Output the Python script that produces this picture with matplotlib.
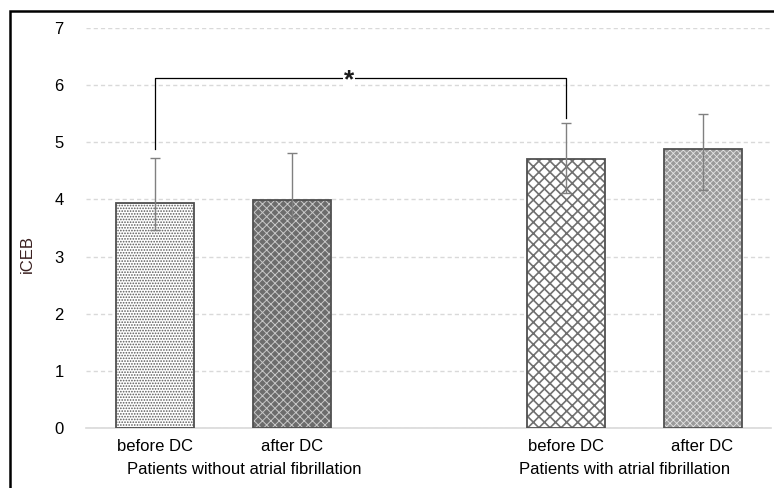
import matplotlib
matplotlib.use("Agg")
import matplotlib.pyplot as plt
from matplotlib.patches import Rectangle
import matplotlib.transforms as mtransforms

plt.rcParams['font.family'] = ['Liberation Sans', 'DejaVu Sans']

# ---- data ----
tick_labels = ["before DC", "after DC", "before DC", "after DC"]
positions = [0, 1, 3, 4]
values = [3.94, 3.99, 4.71, 4.89]
err_upper = [0.79, 0.82, 0.63, 0.61]
err_lower = [0.48, 0.29, 0.60, 0.72]
group_labels = ["Patients without atrial fibrillation", "Patients with atrial fibrillation"]
group_centers = [0.65, 3.43]
y_ticks = [0, 1, 2, 3, 4, 5, 6, 7]
y_label = "iCEB"
sig_pair = (0, 3)
sig_y = 6.12
sig_leg_bottoms = (4.88, 5.42)
sig_text = "*"
sig_text_x = 1.42

# ---- styles ----
face_colors = ['#ffffff', '#6c6c6c', '#ffffff', '#9a9a9a']
hatch_colors = ['#5a5a5a', '#c8c8c8', '#707070', '#e4e4e4']
hatches = ['......', 'xxxx', 'xxx', 'xxxxx']
hatch_lws = [0.8, 0.7, 1.2, 0.6]

fig = plt.figure(figsize=(7.74, 4.88), dpi=100)
ax = fig.add_axes([86/774, 60/488, 685/774, 400/488])

for x, v, fc, hc, h, hl in zip(positions, values, face_colors, hatch_colors, hatches, hatch_lws):
    b = ax.bar(x, v, width=0.57, color=fc, edgecolor=hc, hatch=h, linewidth=0, zorder=2)
    for p in b.patches:
        if hasattr(p, 'set_hatch_linewidth'):
            p.set_hatch_linewidth(hl)
    ax.bar(x, v, width=0.57, fill=False, edgecolor='#505050', linewidth=1.3, zorder=3)

ax.errorbar(positions, values, yerr=[err_lower, err_upper], fmt='none',
            ecolor='#808080', elinewidth=1.0, capsize=3.5, capthick=1.0, zorder=4)

# significance bracket
x0, x1 = sig_pair
ax.plot([x0, x0, x1, x1], [sig_leg_bottoms[0], sig_y, sig_y, sig_leg_bottoms[1]],
        color='black', linewidth=0.9, zorder=5, clip_on=False)
ax.text(sig_text_x, sig_y - 0.03, sig_text, ha='center', va='center', fontsize=19,
        fontweight='bold', color='#1a1a1a', zorder=6,
        bbox=dict(facecolor='white', edgecolor='none', pad=0.5))

ax.set_xlim(-0.504, 4.5)
ax.set_ylim(0, 7)
ax.set_yticks(y_ticks)
ax.set_yticklabels([str(t) for t in y_ticks], fontsize=12)
ax.set_xticks(positions)
ax.set_xticklabels(tick_labels, fontsize=12)
ax.tick_params(axis='both', length=0, colors='black')
ax.tick_params(axis='y', pad=16)
ax.tick_params(axis='x', pad=8)

for s in ['top', 'right', 'left']:
    ax.spines[s].set_visible(False)
ax.spines['bottom'].set_color('#d9d9d9')
ax.spines['bottom'].set_linewidth(1.2)
ax.spines['bottom'].set_zorder(1)

ax.yaxis.grid(True, color='#d9d9d9', linewidth=1.0, linestyle=(0, (3, 2.2)), zorder=0)
ax.set_axisbelow(True)

ax.set_ylabel(y_label, fontsize=12, color='#3a2020', labelpad=10)
ax.yaxis.set_label_coords(-0.075, 0.435)

trans = mtransforms.blended_transform_factory(ax.transData, fig.transFigure)
for gx, gl in zip(group_centers, group_labels):
    ax.text(gx, 1 - 470/488, gl, transform=trans, ha='center', va='center', fontsize=12)

# outer frame (cropped at right/bottom)
fig.patches.append(Rectangle((10/774, -0.1), 1.2, 1 - 11/488 + 0.1, transform=fig.transFigure,
                             fill=False, edgecolor='black', linewidth=1.8, zorder=10))

fig.savefig('out.png', dpi=100)
